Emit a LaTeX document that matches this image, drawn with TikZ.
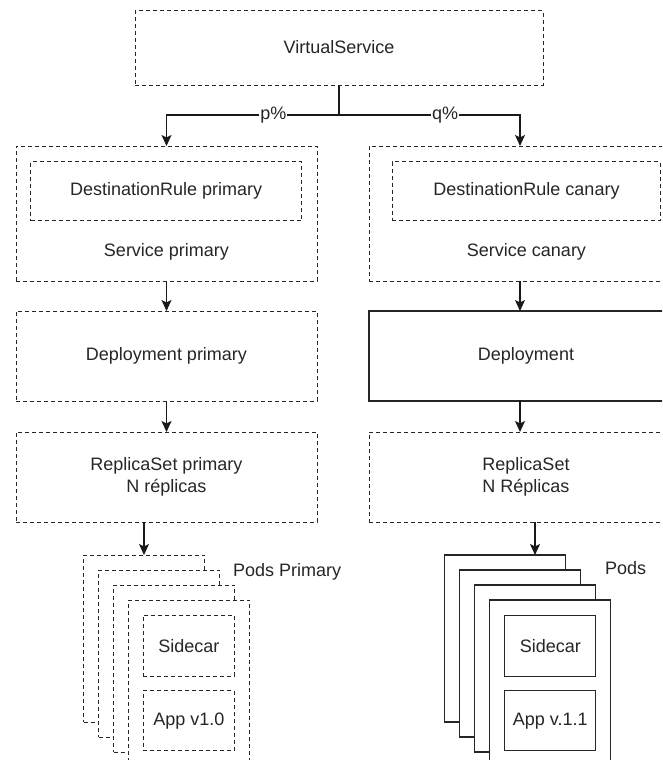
\documentclass[tikz,border=0pt]{standalone}
\usepackage{fontspec}
\setmainfont{Liberation Sans}
\usetikzlibrary{arrows.meta}

\tikzset{
  dbox/.style={draw=black!85, line width=1pt, dash pattern=on 4pt off 3pt,
    fill=white, text=black!85, inner sep=0pt, outer sep=0pt, align=center},
  sbox/.style={draw=black!85, line width=1.3pt, fill=white, text=black!85,
    inner sep=0pt, outer sep=0pt, align=center},
  lbl/.style={text=black!85, inner sep=0pt, align=center},
  arr/.style={draw=black!90, line width=1.2pt,
    -{Stealth[length=11pt,width=10pt,inset=2.5pt]}},
  wire/.style={draw=black!90, line width=1.2pt},
  pct/.style={fill=white, inner sep=1pt, text=black!85},
}

\begin{document}
\begin{tikzpicture}[x=1pt, y=-1pt, font=\fontsize{18}{22}\selectfont]
\useasboundingbox (0,0) rectangle (662,760);
\clip (0,0) rectangle (662,760);

% entry point
\node[dbox, minimum width=408pt, minimum height=74pt] (vs) at (339,48) {};
\node[lbl] (vsT) at (339,47) {VirtualService};

% primary branch
\node[dbox, minimum width=301pt, minimum height=135pt] (sp) at (166.5,213.5) {};
\node[dbox, minimum width=271pt, minimum height=59pt] (drp) at (166.2,191.2) {};
\node[lbl] (drpT) at (166.2,191.2) {DestinationRule primary};
\node[lbl] (spT) at (166.5,252) {Service primary};

\node[dbox, minimum width=301pt, minimum height=90pt] (dp) at (166.5,356) {Deployment primary};
\node[dbox, minimum width=301pt, minimum height=90pt] (rsp) at (166.5,477) {ReplicaSet primary\\N réplicas};

% canary branch
\node[dbox, minimum width=314pt, minimum height=135pt] (sc) at (526,213.5) {};
\node[dbox, minimum width=268pt, minimum height=59pt] (drc) at (526,191.2) {};
\node[lbl] (drcT) at (526.5,191.2) {DestinationRule canary};
\node[lbl] (scT) at (526.5,252) {Service canary};

\node[sbox, minimum width=314pt, minimum height=90pt] (dc) at (526,356) {};
\node[lbl] (dcT) at (526,356) {Deployment};
\node[dbox, minimum width=314pt, minimum height=90pt] (rsc) at (526,477) {};
\node[lbl] (rscT) at (526,477) {ReplicaSet\\N Réplicas};

% primary pods: stacked dashed cards
\foreach \k in {0,...,3} {
  \node[dbox, minimum width=121pt, minimum height=167pt] (pl\k) at ({144+15*\k},{638.5+15*\k}) {};
}
\node[dbox, minimum width=91pt, minimum height=61pt] (sideL) at (188.8,645.7) {Sidecar};
\node[dbox, minimum width=91pt, minimum height=60pt] (appL) at (188.8,720.7) {App v1.0};
\node[lbl, anchor=west] (podsL) at (233,572) {Pods Primary};

% canary pods: stacked solid cards
\foreach \k in {0,...,3} {
  \node[sbox, line width=1.2pt, minimum width=121pt, minimum height=167pt] (pr\k) at ({505+15*\k},{638.5+15*\k}) {};
}
\node[sbox, line width=1.2pt, minimum width=91pt, minimum height=61pt] (sideR) at (550.3,645.8) {Sidecar};
\node[sbox, line width=1.2pt, minimum width=91pt, minimum height=60pt] (appR) at (550.3,720.8) {App v.1.1};
\node[lbl, anchor=west] (podsR) at (605,568) {Pods};

% traffic split
\coordinate (split) at (339,115);
\draw[wire] (vs.south) -- (split);
\draw[arr] (split) -| node[pct, pos=0.19] {p\%} (sp.north);
\coordinate (cx) at (520,0);
\draw[arr] (split) -| node[pct, pos=0.293] {q\%} (sc.north -| cx);

% primary chain
\draw[arr] (sp.south) -- (dp.north);
\draw[arr] (dp.south) -- (rsp.north);
\draw[arr] (rsp.south -| pl0.north) -- (pl0.north);

% canary chain
\draw[arr] (sc.south -| cx) -- (dc.north -| cx);
\draw[arr] (dc.south -| cx) -- (rsc.north -| cx);
\coordinate (px) at (535,0);
\draw[arr] (rsc.south -| px) -- (pr0.north -| px);
\end{tikzpicture}
\end{document}
